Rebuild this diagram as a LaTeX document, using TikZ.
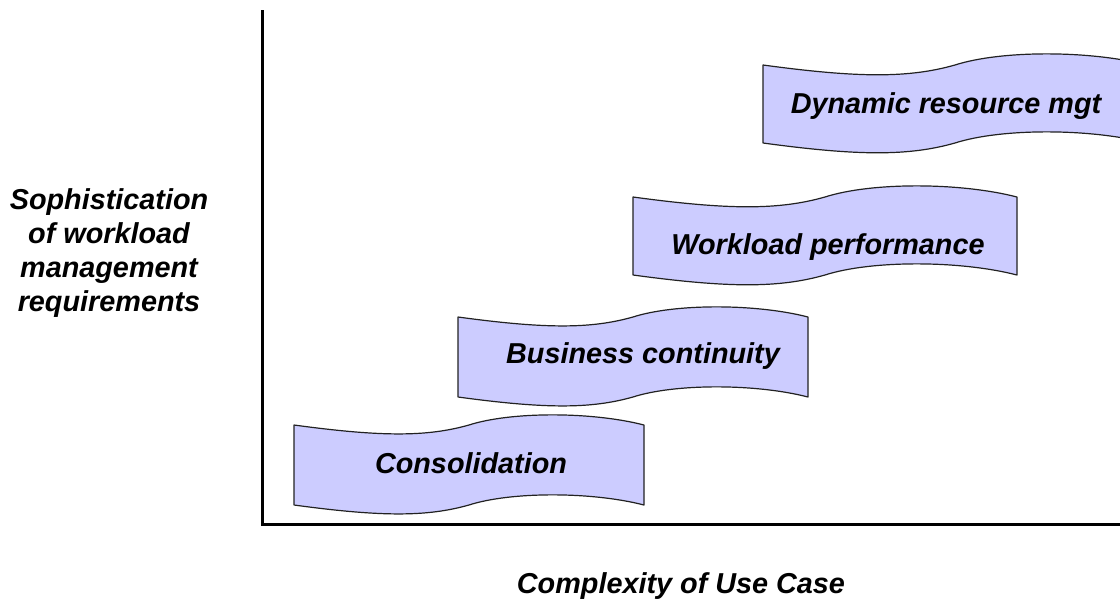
\documentclass[tikz,border=0pt]{standalone}
\usepackage{fontspec}
\setmainfont{Liberation Sans}
\definecolor{wavefill}{HTML}{CCCCFF}
\definecolor{waveline}{HTML}{222222}
\tikzset{
  wavebox/.style={fill=wavefill, draw=waveline, line width=1.2pt, line join=round},
  lbl/.style={font=\fontsize{28.8}{34}\selectfont\bfseries\itshape, inner sep=0pt, anchor=base},
  axisline/.style={line width=3pt, line join=miter}
}
\newcommand\wavepath[4]{%
  \pgfmathsetmacro\wxa{#1+0.25*#3}%
  \pgfmathsetmacro\wxb{#1+0.38*#3}%
  \pgfmathsetmacro\wxm{#1+0.5*#3}%
  \pgfmathsetmacro\wxc{#1+0.62*#3}%
  \pgfmathsetmacro\wxd{#1+0.85*#3}%
  \pgfmathsetmacro\wxr{#1+#3}%
  \pgfmathsetmacro\wdn{0.034*#3}%
  \pgfmathsetmacro\wup{0.0386*#3}%
  \pgfmathsetmacro\wyd{#2+\wdn}%
  \pgfmathsetmacro\wyu{#2-\wup}%
  \pgfmathsetmacro\wyb{#2+#4}%
  \pgfmathsetmacro\wybd{#2+#4+\wdn}%
  \pgfmathsetmacro\wybu{#2+#4-\wup}%
  \draw[wavebox] (#1,#2) .. controls (\wxa,\wyd) and (\wxb,\wyd) .. (\wxm,#2)
    .. controls (\wxc,\wyu) and (\wxd,\wyu) .. (\wxr,#2) -- (\wxr,\wyb)
    .. controls (\wxd,\wybu) and (\wxc,\wybu) .. (\wxm,\wyb)
    .. controls (\wxb,\wybd) and (\wxa,\wybd) .. (#1,\wyb) -- cycle;
}
\begin{document}
\begin{tikzpicture}[x=1pt, y=-1pt]
  \useasboundingbox (0,0) rectangle (1120,600);
  \clip (0,0) rectangle (1120,600);
  \fill[white] (0,0) rectangle (1120,600);

  % axes
  \coordinate (ytop) at (262,10);
  \coordinate (origin) at (262,524);
  \coordinate (xend) at (1122,524);
  \draw[axisline] (ytop) -- (origin) -- (xend);

  % wave boxes
  \wavepath{294}{425}{350}{80}
  \wavepath{458}{317}{350}{80}
  \wavepath{633}{197}{384}{78}
  \wavepath{763}{65}{384}{78}

  % labels
  \node[lbl] (cons) at (471,473) {Consolidation};
  \node[lbl] (bus) at (643,363) {Business continuity};
  \node[lbl] (work) at (828,254) {Workload performance};
  \node[lbl] (dyn) at (946,113) {Dynamic resource mgt};

  \node[lbl] (ylab1) at (109,209) {Sophistication};
  \node[lbl] (ylab2) at (109,243) {of workload};
  \node[lbl] (ylab3) at (109,277) {management};
  \node[lbl] (ylab4) at (109,311) {requirements};

  \node[lbl] (xlab) at (681,593) {Complexity of Use Case};
\end{tikzpicture}
\end{document}
